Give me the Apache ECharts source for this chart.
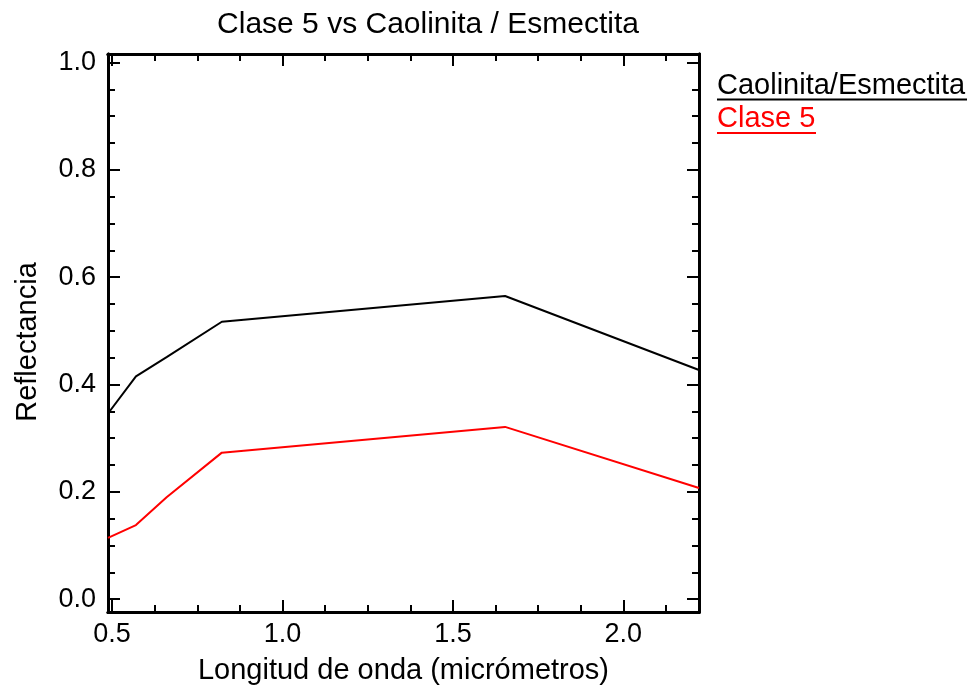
<!DOCTYPE html>
<html>
<head>
<meta charset="utf-8">
<script src="https://cdn.jsdelivr.net/npm/echarts@6/dist/echarts.min.js"></script>
<style>
  html, body { margin: 0; padding: 0; background: #fff; }
  #chart { width: 978px; height: 693px; }
</style>
</head>
<body>
<div id="chart"></div>
<script>
// Band centre wavelengths (µm) and mean reflectance per band
const wavelengths = [0.488, 0.570, 0.660, 0.822, 1.653, 2.222];
const caolinitaEsmectita = [0.346, 0.415, 0.451, 0.517, 0.565, 0.427];
const clase5 = [0.114, 0.138, 0.190, 0.273, 0.321, 0.207];

// Axis ticks
const xMajorTicks = [0.5, 1.0, 1.5, 2.0];
const xMinorTicks = [0.625, 0.75, 0.875, 1.125, 1.25, 1.375, 1.625, 1.75, 1.875, 2.125];
const yMajorTicks = [0.0, 0.2, 0.4, 0.6, 0.8, 1.0];
const yMinorTicks = [0.05, 0.1, 0.15, 0.25, 0.3, 0.35, 0.45, 0.5, 0.55, 0.65, 0.7, 0.75, 0.85, 0.9, 0.95];

const X_MIN = 0.488, X_MAX = 2.222;
const Y_MIN = -0.024, Y_MAX = 1.016;

const FONT = '"Liberation Sans", Arial, sans-serif';

function pairs(xs, ys) { return xs.map((x, i) => [x, ys[i]]); }

function xAxisDef(position, ticks, len, withLabels) {
  return {
    type: 'value', position: position, min: X_MIN, max: X_MAX,
    axisLine: { show: true, onZero: false, lineStyle: { color: '#000', width: 3 } },
    axisTick: { show: true, inside: true, length: len, customValues: ticks, lineStyle: { color: '#000', width: 2 } },
    axisLabel: withLabels
      ? { show: true, customValues: ticks, formatter: v => v.toFixed(1), color: '#000', fontSize: 27, fontFamily: FONT, margin: 9 }
      : { show: false },
    splitLine: { show: false }, minorTick: { show: false }
  };
}
function yAxisDef(position, ticks, len, withLabels) {
  return {
    type: 'value', position: position, min: Y_MIN, max: Y_MAX,
    axisLine: { show: true, onZero: false, lineStyle: { color: '#000', width: 3 } },
    axisTick: { show: true, inside: true, length: len, customValues: ticks, lineStyle: { color: '#000', width: 2 } },
    axisLabel: withLabels
      ? { show: true, customValues: ticks, formatter: v => v.toFixed(1), color: '#000', fontSize: 27, fontFamily: FONT, margin: 12 }
      : { show: false },
    splitLine: { show: false }, minorTick: { show: false }
  };
}

const xAxes = [
  xAxisDef('bottom', xMajorTicks, 12, true),
  xAxisDef('bottom', xMinorTicks, 7, false),
  xAxisDef('top', xMajorTicks, 12, false),
  xAxisDef('top', xMinorTicks, 7, false)
];
xAxes[0].name = 'Longitud de onda (micrómetros)';
xAxes[0].nameLocation = 'middle';
xAxes[0].nameGap = 44;
xAxes[0].nameTextStyle = { color: '#000', fontSize: 29, fontFamily: FONT };

const yAxes = [
  yAxisDef('left', yMajorTicks, 12, true),
  yAxisDef('left', yMinorTicks, 7, false),
  yAxisDef('right', yMajorTicks, 12, false),
  yAxisDef('right', yMinorTicks, 7, false)
];

const chart = echarts.init(document.getElementById('chart'), null, { renderer: 'canvas' });
chart.setOption({
  animation: false,
  backgroundColor: '#fff',
  title: {
    text: 'Clase 5 vs Caolinita / Esmectita',
    left: 423, top: 5, textAlign: 'center',
    textStyle: { color: '#000', fontSize: 30, fontWeight: 'normal', fontFamily: FONT }
  },
  grid: { left: 108, right: 279, top: 54, bottom: 81 },
  xAxis: xAxes,
  yAxis: yAxes,
  series: [
    {
      name: 'Caolinita/Esmectita', type: 'line', xAxisIndex: 0, yAxisIndex: 0,
      data: pairs(wavelengths, caolinitaEsmectita),
      showSymbol: false, lineStyle: { color: '#000', width: 2 }, itemStyle: { color: '#000' }
    },
    {
      name: 'Clase 5', type: 'line', xAxisIndex: 0, yAxisIndex: 0,
      data: pairs(wavelengths, clase5),
      showSymbol: false, lineStyle: { color: '#ff0000', width: 2 }, itemStyle: { color: '#ff0000' }
    }
  ],
  graphic: [
    // y axis title, read bottom to top
    { type: 'text', x: 28, y: 342, rotation: Math.PI / 2,
      style: { text: 'Reflectancia', fill: '#000', font: '29px ' + FONT, align: 'center', verticalAlign: 'middle' } },
    // series key: names underlined in their line colour
    { type: 'text', left: 717, top: 71, style: { text: 'Caolinita/Esmectita', fill: '#000', font: '29px ' + FONT } },
    { type: 'line', shape: { x1: 717, y1: 99.5, x2: 967, y2: 99.5 }, style: { stroke: '#000', lineWidth: 2 } },
    { type: 'text', left: 717, top: 104, style: { text: 'Clase 5', fill: '#ff0000', font: '29px ' + FONT } },
    { type: 'line', shape: { x1: 717, y1: 133, x2: 816, y2: 133 }, style: { stroke: '#ff0000', lineWidth: 2 } }
  ]
});
</script>
</body>
</html>
